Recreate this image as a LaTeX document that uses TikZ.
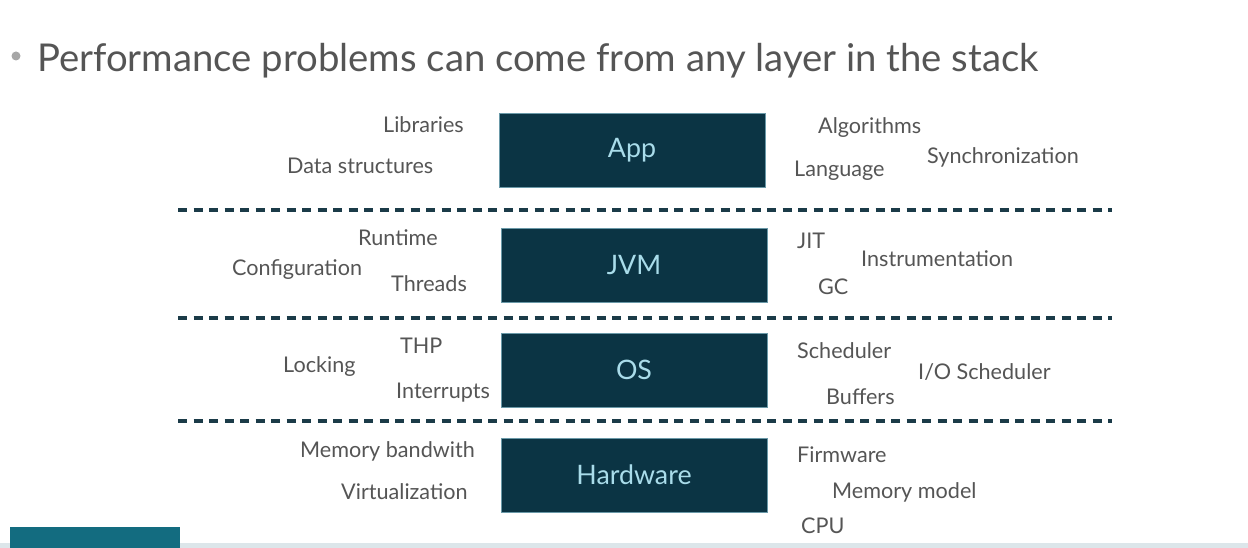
\documentclass[tikz,border=0pt]{standalone}
\usepackage{fontspec}
\setmainfont{Lato}
\definecolor{boxfill}{HTML}{0B3444}
\definecolor{boxtext}{HTML}{A9DCEA}
\definecolor{dashcol}{HTML}{1B3B48}
\definecolor{labelcol}{HTML}{555555}
\definecolor{logocol}{HTML}{136C80}
\definecolor{stripcol}{HTML}{DCE6EA}
\begin{document}
\begin{tikzpicture}[x=1pt,y=-1pt,
  layerbox/.style={draw=boxtext!60!boxfill,line width=0.6pt,fill=boxfill,text=boxtext,minimum width=266pt,minimum height=74pt,inner sep=0pt,font=\fontsize{26.8}{30}\selectfont},
  lbl/.style={anchor=west,inner sep=0pt,text=labelcol,font=\fontsize{21.6}{25}\selectfont},
  sep/.style={draw=dashcol,line width=3.5pt,dash pattern=on 9pt off 6.5pt}]
\useasboundingbox (0,0) rectangle (1248,548);
\fill[white] (0,0) rectangle (1248,548);
% bottom strip and logo block
\fill[stripcol] (0,543) rectangle (1248,548);
\fill[logocol] (10,527) rectangle (180,548);
% title
\node[circle,fill=gray!70,inner sep=0pt,minimum size=9pt] (bullet) at (16,56) {};
\node[anchor=west,inner sep=0pt,text=labelcol,font=\fontsize{38.3}{44}\selectfont] (title) at (37,61) {Performance problems can come from any layer in the stack};
% boxes
\node[layerbox] (app) at (632,150) {App};
\node[layerbox] (jvm) at (634,265.5) {JVM};
\node[layerbox] (os) at (634,370) {OS};
\node[layerbox] (hw) at (634,475) {Hardware};
% separators
\coordinate (s1a) at (178,210); \coordinate (s1b) at (1112,210);
\coordinate (s2a) at (178,318); \coordinate (s2b) at (1112,318);
\coordinate (s3a) at (178,421); \coordinate (s3b) at (1112,421);
\draw[sep] (s1a) -- (s1b);
\draw[sep] (s2a) -- (s2b);
\draw[sep] (s3a) -- (s3b);
% App labels
\node[lbl] (libs) at (383,125) {Libraries};
\node[lbl] (ds) at (287,166) {Data structures};
\node[lbl] (alg) at (818,128) {Algorithms};
\node[lbl] (sync) at (927,157) {Synchronization};
\node[lbl] (lang) at (794,171) {Language};
% JVM labels
\node[lbl] (rt) at (358,238) {Runtime};
\node[lbl] (conf) at (232,270) {Configuration};
\node[lbl] (thr) at (391,284) {Threads};
\node[lbl] (jit) at (797,241) {JIT};
\node[lbl] (instr) at (861,259) {Instrumentation};
\node[lbl] (gc) at (818,287) {GC};
% OS labels
\node[lbl] (thp) at (400,346) {THP};
\node[lbl] (lock) at (283,367) {Locking};
\node[lbl] (intr) at (396,393) {Interrupts};
\node[lbl] (sched) at (797,351) {Scheduler};
\node[lbl] (iosched) at (918,372) {I/O Scheduler};
\node[lbl] (buf) at (826,397) {Buffers};
% Hardware labels
\node[lbl] (membw) at (300,451) {Memory bandwith};
\node[lbl] (virt) at (341,492) {Virtualization};
\node[lbl] (fw) at (797,455) {Firmware};
\node[lbl] (memmod) at (832,492) {Memory model};
\node[lbl] (cpu) at (801,526) {CPU};
\end{tikzpicture}
\end{document}
